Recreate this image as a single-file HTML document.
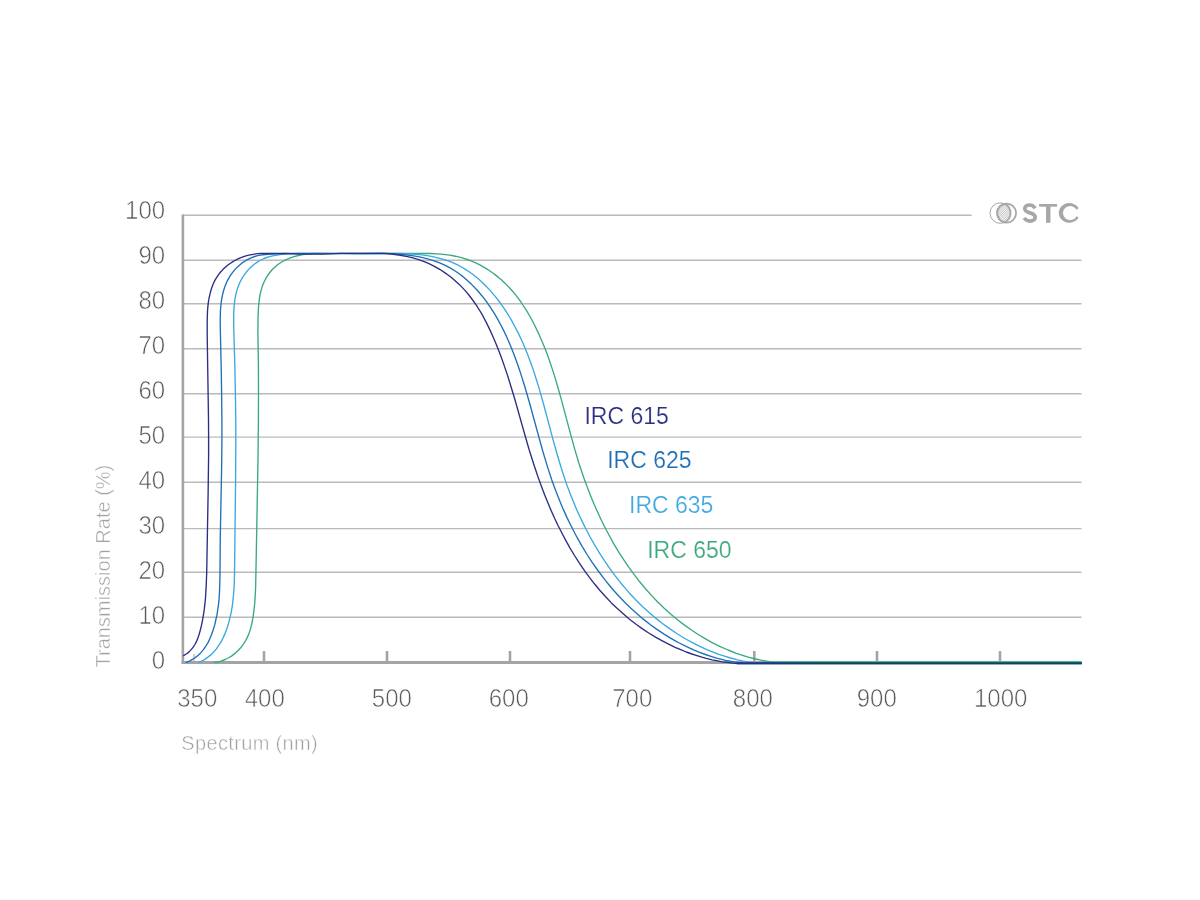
<!DOCTYPE html>
<html lang="en"><head><meta charset="utf-8"><title>IRC filter transmission chart</title>
<style>
html,body{margin:0;padding:0;background:#fff;}
body{width:1200px;height:900px;overflow:hidden;font-family:"Liberation Sans",sans-serif;}
svg{display:block;will-change:transform}
text{font-family:"Liberation Sans",sans-serif;}
</style></head><body>
<svg width="1200" height="900" viewBox="0 0 1200 900">
<defs>
<clipPath id="lens"><path d="M1004.59 203.81A10.25 10.25 0 0 1 1004.59 222.39A9.5 9.5 0 0 1 1004.59 203.81Z"/></clipPath>
<linearGradient id="tg" gradientUnits="userSpaceOnUse" x1="737" y1="0" x2="805" y2="0"><stop offset="0" stop-color="#2a3088"/><stop offset="0.55" stop-color="#1a3876"/><stop offset="1" stop-color="#0a4656"/></linearGradient>
</defs>
<rect width="1200" height="900" fill="#fff"/>
<g id="grid" stroke="#bababa" stroke-width="1.4" fill="none">
<line x1="183" x2="1081.5" y1="617.2" y2="617.2"/>
<line x1="183" x2="1081.5" y1="572.3" y2="572.3"/>
<line x1="183" x2="1081.5" y1="528.6" y2="528.6"/>
<line x1="183" x2="1081.5" y1="482.3" y2="482.3"/>
<line x1="183" x2="1081.5" y1="437.1" y2="437.1"/>
<line x1="183" x2="1081.5" y1="393.7" y2="393.7"/>
<line x1="183" x2="1081.5" y1="348.7" y2="348.7"/>
<line x1="183" x2="1081.5" y1="303.7" y2="303.7"/>
<line x1="183" x2="1081.5" y1="260.3" y2="260.3"/>
<line x1="183" x2="971.7" y1="215.2" y2="215.2"/>
</g>
<g id="axes" stroke="#a4a4a4" fill="none">
<line x1="182.9" x2="182.9" y1="214.4" y2="664" stroke-width="2.6"/>
<line x1="181.6" x2="1081.4" y1="662.6" y2="662.6" stroke-width="3"/>
<g stroke-width="2.6">
<line x1="264.0" x2="264.0" y1="651" y2="662.5"/>
<line x1="387.0" x2="387.0" y1="651" y2="662.5"/>
<line x1="510.0" x2="510.0" y1="651" y2="662.5"/>
<line x1="630.0" x2="630.0" y1="651" y2="662.5"/>
<line x1="754.3" x2="754.3" y1="651" y2="662.5"/>
<line x1="877.0" x2="877.0" y1="651" y2="662.5"/>
<line x1="1000.0" x2="1000.0" y1="651" y2="662.5"/>
</g>
<line x1="194" x2="194" y1="654" y2="662" stroke-width="1"/>
</g>
<g id="curves" fill="none" stroke-width="1.35" stroke-linejoin="round">
<path stroke="#3aaa7c" d="M213.7 662.4L216.7 662.3L221 661.1L225.2 659.5L229.2 657.5L231.8 655.9L235.4 653.1L238.6 650L241.6 646.7L243.4 644.2L245.8 640.4L247.8 636.4L249.4 632.2L250.8 627.9L251.8 623.5L253 617.6L253.8 611.6L254.5 605.7L255 599.7L255.4 592.2L255.7 584.7L257.2 503.6L258 458.5L258.4 422.4L258.5 392.4L258.4 365.3L257.9 332.3L258 318.8L258.3 309.8L258.8 303.8L259.5 297.8L260 294.8L260.7 291.9L261.9 287.6L263.5 283.3L265.4 279.3L266.9 276.7L269.4 273L272.3 269.5L275.6 266.4L277.9 264.5L281.7 262L285.6 259.9L289.8 258.1L294 256.6L298.4 255.5L302.8 254.6L308.8 253.8L311.8 253.5L313.3 253.4L340.3 253.4L361.3 253.7L386.9 253.4L430.5 253.5L436.5 253.8L441 254.1L445.4 254.6L449.9 255.2L454.3 256L457.3 256.6L461.6 257.7L464.5 258.6L467.4 259.5L471.6 261.1L475.7 262.9L479.8 264.9L482.4 266.3L486.3 268.6L488.8 270.2L492.5 272.8L495 274.6L498.5 277.4L501.9 280.3L505.2 283.4L510.4 288.8L513.4 292.2L516.2 295.7L520.7 301.7L523.2 305.5L525.7 309.2L530.3 317L534.5 325L538.4 333.1L542.6 342.7L546 351.1L549.1 359.5L552 368.1L555.2 378.1L557.7 386.8L560.6 396.9L570.3 433.2L574.7 449.1L579 463.5L583.8 477.7L587.4 487.6L590.7 496L594.1 504.3L597.8 512.6L601.6 520.7L605.6 528.8L609.9 536.8L613.5 543.3L618.9 552.3L623.8 559.9L628.9 567.4L634.2 574.7L639.7 581.8L645.5 588.7L651.5 595.4L657.7 602L664.2 608.2L670.9 614.3L677.8 620L683.8 624.6L691.1 629.8L697.4 634L705.1 638.6L711.7 642.3L719.7 646.3L728 650L736.3 653.3L744.9 656.1L749.2 657.4L753.6 658.5L760.9 660.2L765.4 661L769.8 661.6L774.3 662.2L777.3 662.4L798.3 662.4L799.8 662.3L1081.7 662.4"/>
<path stroke="#39a9e0" d="M198.5 662.6L202.6 660.7L205.1 659.1L207.6 657.4L211.1 654.6L213.2 652.5L216.2 649.1L218.8 645.4L221.2 641.6L223.2 637.6L225.1 633.4L226.7 629.2L228.5 623.5L230 617.7L231.3 611.8L232.3 605.9L233 599.9L233.6 594L234 588L234.3 582L234.5 574.4L235.6 479.8L235.8 448.3L235.8 424.2L235.5 400.2L234.9 368.6L233.7 326.6L233.7 320.6L233.7 314.6L234 308.6L234.3 304.1L234.9 299.6L235.7 295.2L236.8 290.8L237.7 287.9L239.3 283.7L240.6 281L242 278.4L243.6 275.8L246.3 272.2L248.2 269.9L250.3 267.7L252.5 265.7L254.9 263.8L257.3 262.1L259.9 260.5L263.9 258.5L266.7 257.5L269.6 256.6L272.5 255.9L275.5 255.3L279.9 254.7L284.4 254.2L291.9 253.7L297.9 253.4L338.5 253.4L358 253.7L377.5 253.5L398.6 253.4L407.6 253.8L416.6 254.4L424 255.2L431.5 256.4L438.8 258.1L444.6 259.7L448.8 261.1L451.6 262.2L457.1 264.7L462.4 267.5L465 269.1L468.8 271.5L473.6 275L479.4 279.8L484.9 285L490.1 290.4L495 296.1L499.6 302L503.1 306.9L507.2 313.2L511.1 319.6L514.7 326.2L518.2 332.9L522 341L525 347.9L528.3 356.3L530.9 363.3L533.4 370.4L536.2 379L538.9 387.6L543.8 405L552.7 438.3L556.7 452.8L561 467.2L565.2 480.1L568.2 488.6L570.9 495.6L573.7 502.6L576.6 509.5L579.7 516.3L583 523.1L586.3 529.8L589.8 536.5L595 545.6L599.7 553.3L604.6 560.9L609.7 568.3L615 575.6L620.6 582.7L626.4 589.6L631.4 595.2L637.6 601.7L643 606.9L649.7 613L655.4 617.9L662.4 623.5L668.5 627.9L676 633L682.3 637L687.5 640L691.5 642.2L696.8 644.9L700.9 646.9L706.3 649.4L710.5 651.1L718.9 654.3L724.6 656.2L728.9 657.5L737.6 659.8L743.5 661.1L748 661.9L752.4 662.6L756.9 663.1L786.9 663.1L789.9 662.8L1081.7 663.1"/>
<path stroke="#1d71b8" d="M185.7 662.6L189.9 660.8L192.5 659.4L195 657.8L196.2 656.9L198.5 655L200.7 652.9L203.6 649.4L205.3 647L207.7 643.1L209.7 639.1L211.4 634.9L212.9 630.7L214.7 624.9L215.7 620.5L217 614.7L217.9 608.7L218.7 602.8L219.1 598.3L219.5 592.3L219.9 580.3L220.3 536.7L221.6 469.1L221.9 440.5L221.9 421L221.7 400L221.3 372.9L220.3 327.9L220.2 321.8L220.3 315.8L220.5 309.8L220.9 305.3L221.4 300.9L222.2 296.4L223.2 292L224.5 287.7L226.1 283.5L227.3 280.8L228.8 278.1L230.3 275.6L233 271.9L234.9 269.6L237 267.4L239.1 265.4L241.5 263.4L243.9 261.7L246.4 260.1L250.5 258.1L254.7 256.5L257.6 255.7L260.5 255.2L265 254.5L271 254.1L280 253.7L289 253.5L305.6 253.5L335.6 253.7L355.1 253.5L386.7 253.4L394.2 253.8L403.2 254.5L412.1 255.6L419.5 256.9L426.8 258.7L432.6 260.3L436.9 261.8L439.7 262.9L445.2 265.3L450.5 268.1L455.6 271.3L460.5 274.7L462.9 276.6L466.3 279.5L471.8 284.6L477 290L481.9 295.7L486.5 301.7L489.9 306.6L494 312.9L497.1 318.1L500.7 324.7L504.1 331.4L507.3 338.2L510.2 345.1L513.6 353.4L516.2 360.5L519.2 369L522 377.6L524.7 386.2L529.7 403.5L538.8 436.8L542.8 451.3L547.6 467.1L551.8 480L554.9 488.5L557.6 495.5L560.4 502.4L563.3 509.4L567 517.6L570.3 524.3L573.7 531L577.2 537.7L582.4 546.8L587.1 554.5L592 562.1L597.2 569.5L602.5 576.7L608.1 583.8L613.9 590.7L619 596.3L625.2 602.8L630.6 608L637.3 614.1L643 618.9L650.1 624.5L656.2 628.9L663.7 633.9L670.1 637.8L675.3 640.8L679.3 643L684.6 645.7L688.7 647.6L694.2 650.1L698.3 651.8L706.8 655L712.5 656.8L716.8 658.1L725.6 660.3L730 661.2L734.4 662L738.9 662.7L743.4 663.2L744.9 663.3L771.9 663.3L774.9 663.1L1081.7 663.3"/>
<path stroke="#2b2e83" d="M183.2 655.9L185.8 654.3L188.2 652.6L189.3 651.6L191.4 649.4L193.2 647.1L194.9 644.5L196.3 641.9L197.5 639.1L199 634.8L200.2 630.5L201.3 626.1L202.5 620.3L203.3 615.8L204.2 609.9L204.9 603.9L205.5 597.9L206.2 585.9L206.7 572.4L208.1 494.3L208.6 456.7L208.6 437.1L208.5 419.1L207.2 335L207.2 324.4L207.3 316.9L207.5 310.9L207.9 306.4L208.4 301.9L209.2 297.5L210.2 293.1L211.4 288.8L213 284.5L214.2 281.8L215.6 279.1L217.2 276.6L218.9 274.1L220.8 271.8L222.9 269.6L225 267.5L227.3 265.5L229.7 263.7L232.2 262.1L234.8 260.5L237.5 259.1L240.2 257.9L243 256.8L245.9 255.9L248.8 255.2L253.2 254.3L257.7 253.7L260.7 253.5L284.7 253.4L299.7 254.1L310.3 254.2L322.3 254.1L341.8 253.4L383.9 253.4L386.9 253.6L391.4 254L398.8 255L406.2 256.3L412.1 257.7L417.9 259.3L423.5 261.4L429 263.7L434.4 266.4L439.7 269.3L444.7 272.6L448.4 275.2L450.8 277L455.4 280.9L459.8 284.9L461.9 287.1L465 290.4L468.9 295L473.4 301L476.8 305.9L480 311L483 316.2L486.5 322.9L489.8 329.6L492.9 336.5L495.9 343.4L499.2 351.8L501.8 358.8L504.3 365.9L507.2 374.4L509.9 383L515.1 400.3L524.9 435L529.1 449.5L533.6 463.8L538.4 478.1L541.5 486.5L544.7 495L548.1 503.3L551 510.2L554.7 518.5L557.9 525.2L562 533.3L565.5 539.9L569.9 547.8L574.5 555.5L579.4 563.1L584.5 570.6L589.8 577.9L594.4 583.8L600.2 590.7L605.2 596.3L611.4 602.9L616.8 608.1L623.5 614.1L629.2 619L636.4 624.5L642.5 628.9L648.7 633L655.1 636.9L660.4 639.9L665.7 642.7L671.1 645.4L675.1 647.3L680.7 649.7L686.2 652L691.9 654L696.2 655.4L701.9 657.2L706.3 658.4L712.1 659.8L716.5 660.7L722.4 661.8L726.9 662.4L732.9 663.1L737.4 663.5L1081.7 663.5"/>
</g>
<g id="tail">
<line x1="776" x2="1081.7" y1="661.9" y2="661.9" stroke="#45b09a" stroke-width="1.4"/>
<line x1="737" x2="1081.7" y1="663.3" y2="663.3" stroke="url(#tg)" stroke-width="2.1"/>
</g>
<g id="ylab" font-size="25" fill="#5a5a5a" stroke="#fff" stroke-width="0.6">
<text transform="translate(165.2,218.6) scale(0.962,1.04)" text-anchor="end">100</text>
<text transform="translate(165.2,263.6) scale(0.962,1.04)" text-anchor="end">90</text>
<text transform="translate(165.2,308.7) scale(0.962,1.04)" text-anchor="end">80</text>
<text transform="translate(165.2,353.7) scale(0.962,1.04)" text-anchor="end">70</text>
<text transform="translate(165.2,398.7) scale(0.962,1.04)" text-anchor="end">60</text>
<text transform="translate(165.2,443.8) scale(0.962,1.04)" text-anchor="end">50</text>
<text transform="translate(165.2,488.8) scale(0.962,1.04)" text-anchor="end">40</text>
<text transform="translate(165.2,533.8) scale(0.962,1.04)" text-anchor="end">30</text>
<text transform="translate(165.2,578.8) scale(0.962,1.04)" text-anchor="end">20</text>
<text transform="translate(165.2,623.9) scale(0.962,1.04)" text-anchor="end">10</text>
<text transform="translate(165.2,668.9) scale(0.962,1.04)" text-anchor="end">0</text>
</g>
<g id="xlab" font-size="25" fill="#5a5a5a" stroke="#fff" stroke-width="0.6">
<text transform="translate(197.3,707.4) scale(0.962,1.04)" text-anchor="middle">350</text>
<text transform="translate(264.7,707.4) scale(0.962,1.04)" text-anchor="middle">400</text>
<text transform="translate(391.9,707.4) scale(0.962,1.04)" text-anchor="middle">500</text>
<text transform="translate(508.8,707.4) scale(0.962,1.04)" text-anchor="middle">600</text>
<text transform="translate(632.3,707.4) scale(0.962,1.04)" text-anchor="middle">700</text>
<text transform="translate(752.9,707.4) scale(0.962,1.04)" text-anchor="middle">800</text>
<text transform="translate(876.8,707.4) scale(0.962,1.04)" text-anchor="middle">900</text>
<text transform="translate(1000.7,707.4) scale(0.962,1.04)" text-anchor="middle">1000</text>
</g>
<g id="titles" font-size="20" fill="#a2a2a2" stroke="#fff" stroke-width="0.45">
<text x="181.3" y="750" letter-spacing="0.35">Spectrum (nm)</text>
<text transform="translate(110.2,667.4) rotate(-90)">Transmission Rate (%)</text>
</g>
<g id="labels" font-size="23" stroke="#fff" stroke-width="0.2">
<text x="584.4" y="423.8" fill="#2b2e83">IRC 615</text>
<text x="607.2" y="468.4" fill="#1d6fb5">IRC 625</text>
<text x="629" y="513" fill="#3fa9e0">IRC 635</text>
<text x="647.2" y="557.5" fill="#3aaa7c">IRC 650</text>
</g>
<g id="logo" fill="none" stroke="#a8a8a8">
<circle cx="1000.25" cy="213.1" r="10.25" stroke-width="1"/>
<circle cx="1006.6" cy="213.1" r="9.5" stroke-width="1.8"/>
<g clip-path="url(#lens)" stroke="#9e9e9e" stroke-width="0.6"><line x1="975.30" y1="226" x2="1001.30" y2="200"/><line x1="977.13" y1="226" x2="1003.13" y2="200"/><line x1="978.96" y1="226" x2="1004.96" y2="200"/><line x1="980.79" y1="226" x2="1006.79" y2="200"/><line x1="982.62" y1="226" x2="1008.62" y2="200"/><line x1="984.45" y1="226" x2="1010.45" y2="200"/><line x1="986.28" y1="226" x2="1012.28" y2="200"/><line x1="988.11" y1="226" x2="1014.11" y2="200"/><line x1="989.94" y1="226" x2="1015.94" y2="200"/><line x1="991.77" y1="226" x2="1017.77" y2="200"/><line x1="993.60" y1="226" x2="1019.60" y2="200"/><line x1="995.43" y1="226" x2="1021.43" y2="200"/><line x1="997.26" y1="226" x2="1023.26" y2="200"/><line x1="999.09" y1="226" x2="1025.09" y2="200"/><line x1="1000.92" y1="226" x2="1026.92" y2="200"/><line x1="1002.75" y1="226" x2="1028.75" y2="200"/><line x1="1004.58" y1="226" x2="1030.58" y2="200"/><line x1="1006.41" y1="226" x2="1032.41" y2="200"/><line x1="1008.24" y1="226" x2="1034.24" y2="200"/><line x1="1010.07" y1="226" x2="1036.07" y2="200"/><line x1="1011.90" y1="226" x2="1037.90" y2="200"/><line x1="1013.73" y1="226" x2="1039.73" y2="200"/><line x1="1015.56" y1="226" x2="1041.56" y2="200"/><line x1="1017.39" y1="226" x2="1043.39" y2="200"/><line x1="1019.22" y1="226" x2="1045.22" y2="200"/></g>
<path d="M1004.59 203.81A10.25 10.25 0 0 1 1004.59 222.39A9.5 9.5 0 0 1 1004.59 203.81Z" stroke-width="1.8" stroke-linejoin="round"/>
</g>
<g id="stc" fill="#a7a7a7">
<path d="M1035 208.4C1033.8 206.2 1032 205 1029.7 205C1026.8 205 1024.8 206.6 1024.8 208.8C1024.8 211.2 1026.8 212 1029.9 212.9C1033 213.8 1035.2 214.8 1035.2 217.3C1035.2 219.6 1033 221.1 1030 221.1C1027.4 221.1 1025.4 219.9 1024.2 217.9" fill="none" stroke="#a7a7a7" stroke-width="3.7"/>
<rect x="1039.1" y="204" width="17.95" height="2.7"/>
<rect x="1046.05" y="204" width="4.4" height="18.75"/>
<path d="M1078.7 208.3A10.56 9.9 0 1 0 1078.7 217.5L1076.6 216.2A7.2 7 0 1 1 1076.6 209.8Z"/>
</g>
</svg>
</body></html>
